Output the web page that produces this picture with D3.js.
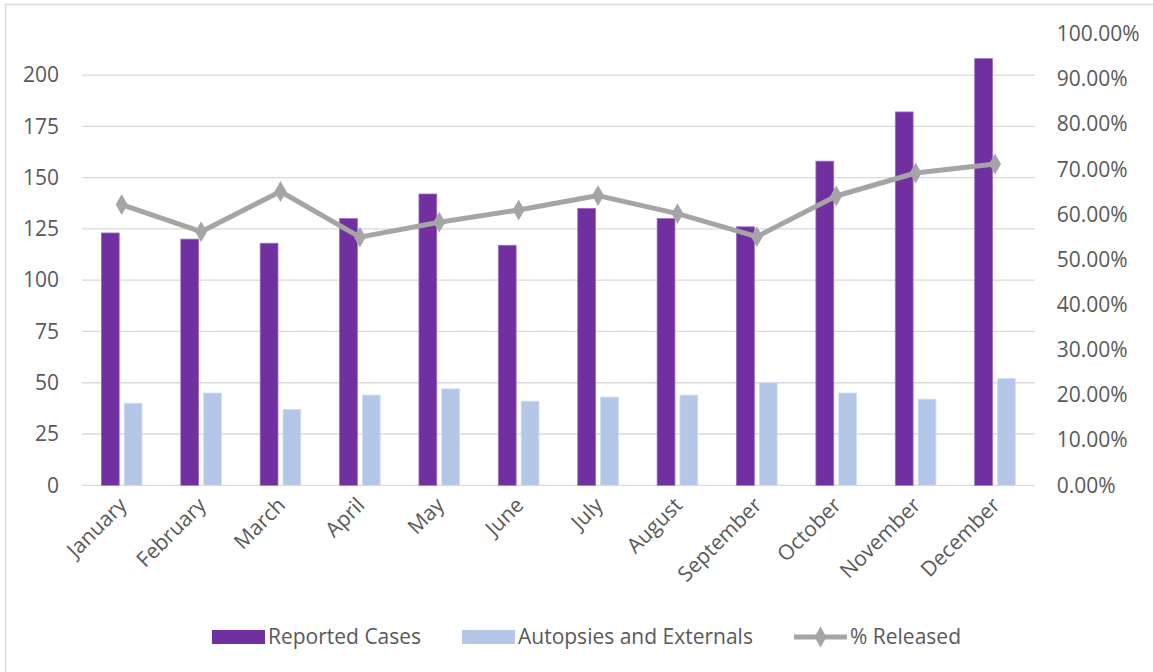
<!DOCTYPE html>
<html><head><meta charset="utf-8">
<script src="https://cdn.jsdelivr.net/npm/d3@7"></script>
<style>
html,body{margin:0;padding:0;background:#fff;}
svg text{font-family:"Open Sans",sans-serif;fill:#595959;}
</style></head>
<body>
<svg id="chart" width="1153" height="672"></svg>
<script>
const months = ["January","February","March","April","May","June","July","August","September","October","November","December"];
const reportedCases = [123,120,118,130,142,117,135,130,126,158,182,208];
const autopsiesExternals = [40,45,37,44,47,41,43,44,50,45,42,52];
const pctReleased = [0.622,0.562,0.651,0.550,0.583,0.610,0.642,0.602,0.551,0.641,0.692,0.712];
const leftTicks = [0,25,50,75,100,125,150,175,200];
const rightTicks = [0,0.1,0.2,0.3,0.4,0.5,0.6,0.7,0.8,0.9,1.0];
const seriesNames = ["Reported Cases","Autopsies and Externals","% Released"];
const colors = {"Reported Cases":"#7030A0","Autopsies and Externals":"#B4C7E7","% Released":"#A5A5A5"};

const svg = d3.select("#chart");
const plot = {left:82, right:1034.7, top:34, bottom:485.3};
const FONT = '"Open Sans",sans-serif';
const FS = 21;

svg.append("rect").attr("x",5.5).attr("y",4.5).attr("width",1160).attr("height",680)
  .attr("fill","#fff").attr("stroke","#D9D9D9").attr("stroke-width",1.5);

const x = d3.scaleBand().domain(months).range([plot.left, plot.right]).paddingInner(0).paddingOuter(0);
const sub = d3.scaleBand().domain(seriesNames.slice(0,2)).range([-20.3,20.3]).paddingInner(0.22);
const yL = d3.scaleLinear().domain([0,220]).range([plot.bottom, plot.top]);
const yR = d3.scaleLinear().domain([0,1]).range([plot.bottom, plot.top]);

// gridlines
svg.append("g").selectAll("line").data(leftTicks).join("line")
  .attr("x1",plot.left).attr("x2",plot.right)
  .attr("y1",d=>yL(d)).attr("y2",d=>yL(d))
  .attr("stroke","#D9D9D9").attr("stroke-width",1.3);

// left axis
const axL = svg.append("g").attr("transform",`translate(${plot.left},0)`)
  .call(d3.axisLeft(yL).tickValues(leftTicks).tickSize(0).tickPadding(23));
axL.select(".domain").remove();
axL.selectAll("text").attr("font-size",FS).style("font-family",FONT).attr("fill","#595959");

// right axis
const axR = svg.append("g").attr("transform",`translate(${plot.right},0)`)
  .call(d3.axisRight(yR).tickValues(rightTicks).tickSize(0).tickPadding(22).tickFormat(d=>(d*100).toFixed(2)+"%"));
axR.select(".domain").remove();
axR.selectAll("text").attr("font-size",FS).style("font-family",FONT).attr("fill","#595959");

// bars
const barData = [
  {name:"Reported Cases", values:reportedCases},
  {name:"Autopsies and Externals", values:autopsiesExternals}
];
barData.forEach(s=>{
  svg.append("g").selectAll("rect").data(s.values).join("rect")
    .attr("x",(d,i)=>x(months[i])+x.bandwidth()/2+sub(s.name))
    .attr("width",sub.bandwidth())
    .attr("y",d=>yL(d))
    .attr("height",d=>yL(0)-yL(d))
    .attr("fill",colors[s.name])
    .attr("stroke", s.name==="Reported Cases" ? "#9C6CC4" : "#D0DDF2")
    .attr("stroke-width",0.8);
});

// x-axis labels
svg.append("g").selectAll("text").data(months).join("text")
  .attr("transform",d=>`translate(${x(d)+x.bandwidth()/2+1},${plot.bottom+16}) rotate(-45)`)
  .attr("text-anchor","end").attr("dy","0.35em")
  .attr("font-size",FS).text(d=>d);

// line
const line = d3.line().x((d,i)=>x(months[i])+x.bandwidth()/2).y(d=>yR(d));
svg.append("path").datum(pctReleased).attr("d",line)
  .attr("fill","none").attr("stroke",colors["% Released"]).attr("stroke-width",5).attr("stroke-linejoin","round");
const diamond = d3.symbol().type(d3.symbolDiamond).size(125);
svg.append("g").selectAll("path").data(pctReleased).join("path")
  .attr("d",diamond)
  .attr("transform",(d,i)=>`translate(${x(months[i])+x.bandwidth()/2},${yR(d)})`)
  .attr("fill",colors["% Released"]);

// legend
const ly = 637;
const leg = svg.append("g");
const items = [
  {name:"Reported Cases", x:212, type:"bar"},
  {name:"Autopsies and Externals", x:462, type:"bar"},
  {name:"% Released", x:794, type:"line"}
];
items.forEach(it=>{
  if(it.type==="bar"){
    leg.append("rect").attr("x",it.x).attr("y",ly-7).attr("width",53).attr("height",14).attr("fill",colors[it.name]);
  } else {
    leg.append("line").attr("x1",it.x).attr("x2",it.x+53).attr("y1",ly).attr("y2",ly)
      .attr("stroke",colors[it.name]).attr("stroke-width",5);
    leg.append("path").attr("d",diamond).attr("transform",`translate(${it.x+26.5},${ly})`).attr("fill",colors[it.name]);
  }
  leg.append("text").attr("x",it.x+56).attr("y",ly).attr("dy","0.35em").attr("font-size",FS).text(it.name);
});
</script>
</body></html>
